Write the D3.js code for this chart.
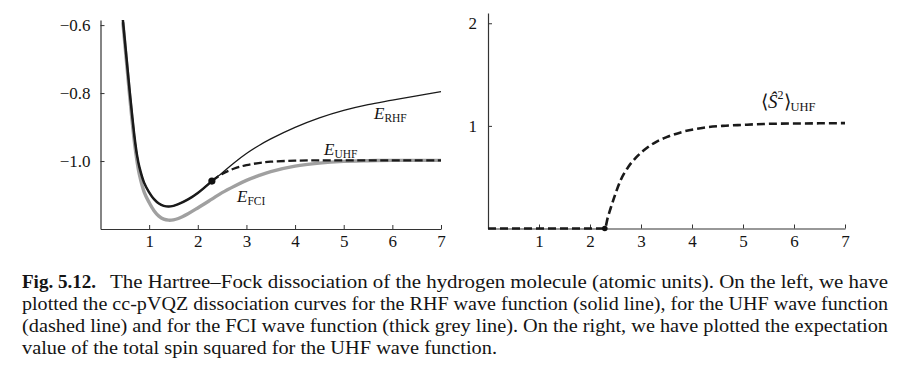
<!DOCTYPE html>
<html>
<head>
<meta charset="utf-8">
<script src="https://cdn.jsdelivr.net/npm/d3@7"></script>
<style>
  body { margin: 0; background: #fff; }
  svg text { font-family: "Liberation Serif", "Times New Roman", Times, serif; fill: #141414; }
</style>
</head>
<body>
<div id="chart"></div>
<script>
// bond distance grid (bohr) and energies (hartree)
const bondR = [0.46, 0.5, 0.55, 0.6, 0.65, 0.7, 0.75, 0.8, 0.9, 1.0, 1.1, 1.2, 1.3, 1.4, 1.5, 1.6, 1.8, 2.0, 2.29, 2.5, 2.75, 3.0, 3.25, 3.5, 4.0, 4.5, 5.0, 5.5, 6.0, 6.5, 7.0];
const eRHF = [-0.585, -0.645, -0.72, -0.795, -0.865, -0.93, -0.982, -1.018, -1.065, -1.092, -1.112, -1.125, -1.132, -1.134, -1.132, -1.127, -1.113, -1.094, -1.059, -1.035, -1.005, -0.978, -0.955, -0.935, -0.901, -0.873, -0.851, -0.834, -0.821, -0.808, -0.796];
const eFCI = [-0.592, -0.654, -0.732, -0.81, -0.882, -0.948, -1.0, -1.04, -1.092, -1.122, -1.146, -1.162, -1.171, -1.174, -1.173, -1.169, -1.155, -1.138, -1.112, -1.093, -1.074, -1.057, -1.043, -1.031, -1.015, -1.006, -1.001, -0.999, -0.998, -0.998, -0.998];
// UHF after the Coulson-Fischer point (before it UHF = RHF)
const cfPoint = 2.29;
const uhfR = [2.29, 2.5, 2.75, 3.0, 3.25, 3.5, 4.0, 4.5, 5.0, 5.5, 6.0, 6.5, 7.0];
const eUHF = [-1.059, -1.038, -1.022, -1.012, -1.006, -1.002, -0.999, -0.998, -0.998, -0.998, -0.998, -0.998, -0.998];
// <S^2> for UHF
const s2R = [0, 2.29, 2.35, 2.4, 2.5, 2.6, 2.75, 2.9, 3.1, 3.3, 3.5, 3.8, 4.2, 4.6, 5.0, 5.5, 6.0, 6.5, 7.0];
const s2UHF = [0, 0, 0.11, 0.19, 0.34, 0.47, 0.6, 0.69, 0.78, 0.845, 0.89, 0.94, 0.98, 1.0, 1.01, 1.02, 1.023, 1.025, 1.027];

const xTicks = [1, 2, 3, 4, 5, 6, 7];
const eTicks = [-1.0, -0.8, -0.6];
const s2Ticks = [1, 2];

const captionHead = "Fig. 5.12.";
const captionLines = [
  "The Hartree\u2013Fock dissociation of the hydrogen molecule (atomic units). On the left, we have",
  "plotted the cc-pVQZ dissociation curves for the RHF wave function (solid line), for the UHF wave function",
  "(dashed line) and for the FCI wave function (thick grey line). On the right, we have plotted the expectation",
  "value of the total spin squared for the UHF wave function."
];

const svg = d3.select("#chart")
  .append("svg")
  .attr("width", 911)
  .attr("height", 374);

function styleAxis(g) {
  g.attr("font-size", 17);
  g.select(".domain").attr("stroke", "#333").attr("stroke-width", 1.2);
  g.selectAll(".tick line").attr("stroke", "#333").attr("stroke-width", 1);
}

// ---------- left panel: energies ----------
const xL = d3.scaleLinear().domain([0, 7]).range([100.5, 441]);
const yL = d3.scaleLinear().domain([-1.2, -0.585]).range([229, 20]);

svg.append("clipPath").attr("id", "clipL")
  .append("rect")
  .attr("x", xL(0)).attr("y", yL(-0.585))
  .attr("width", xL(7) - xL(0) + 2).attr("height", yL(-1.2) - yL(-0.585));

svg.append("g")
  .attr("transform", `translate(0,${yL(-1.2)})`)
  .call(d3.axisBottom(xL).tickValues(xTicks).tickSize(-4).tickSizeOuter(0).tickPadding(6).tickFormat(d3.format("d")))
  .call(styleAxis);

svg.append("g")
  .attr("transform", `translate(${xL(0)},0)`)
  .call(d3.axisLeft(yL).tickValues(eTicks).tickSize(-4).tickSizeOuter(0).tickPadding(10).tickFormat(d3.format(".1f")))
  .call(styleAxis);

const energyLine = d3.line()
  .x(d => xL(d[0]))
  .y(d => yL(d[1]))
  .curve(d3.curveCatmullRom.alpha(0.5));

const rhfPts = bondR.map((r, i) => [r, eRHF[i]]);
const fciPts = bondR.map((r, i) => [r, eFCI[i]]);
const uhfPts = uhfR.map((r, i) => [r, eUHF[i]]);
const restrictedPts = rhfPts.filter(d => d[0] <= cfPoint);

const curvesL = svg.append("g").attr("clip-path", "url(#clipL)");

curvesL.append("path")
  .attr("d", energyLine(fciPts))
  .attr("fill", "none")
  .attr("stroke", "#a0a0a0")
  .attr("stroke-width", 3.4);

curvesL.append("path")
  .attr("d", energyLine(rhfPts))
  .attr("fill", "none")
  .attr("stroke", "#1a1a1a")
  .attr("stroke-width", 1.3);

// UHF coincides with RHF up to the instability point
curvesL.append("path")
  .attr("d", energyLine(restrictedPts))
  .attr("fill", "none")
  .attr("stroke", "#1a1a1a")
  .attr("stroke-width", 2.5);

curvesL.append("path")
  .attr("d", energyLine(uhfPts))
  .attr("fill", "none")
  .attr("stroke", "#1a1a1a")
  .attr("stroke-width", 2.3)
  .attr("stroke-dasharray", "8,3.5");

svg.append("circle")
  .attr("cx", xL(cfPoint))
  .attr("cy", yL(eRHF[bondR.indexOf(cfPoint)]))
  .attr("r", 3.6)
  .attr("fill", "#111");

function addLabel(x, y, sub) {
  const t = svg.append("text").attr("x", x).attr("y", y);
  t.append("tspan").attr("font-style", "italic").attr("font-size", 17).text("E");
  t.append("tspan").attr("font-size", 11.5).attr("dy", 3).text(sub);
}
addLabel(374, 119, "RHF");
addLabel(324, 155, "UHF");
addLabel(237, 202, "FCI");

// ---------- right panel: <S^2> ----------
const xR = d3.scaleLinear().domain([0, 7]).range([488, 845]);
const yR = d3.scaleLinear().domain([0, 2.1]).range([228.5, 13]);

svg.append("g")
  .attr("transform", `translate(0,${yR(0)})`)
  .call(d3.axisBottom(xR).tickValues(xTicks).tickSize(-4).tickSizeOuter(0).tickPadding(6).tickFormat(d3.format("d")))
  .call(styleAxis);

svg.append("g")
  .attr("transform", `translate(${xR(0)},0)`)
  .call(d3.axisLeft(yR).tickValues(s2Ticks).tickSize(-4).tickSizeOuter(0).tickPadding(11).tickFormat(d3.format("d")))
  .call(styleAxis);

const s2Line = d3.line()
  .x(d => xR(d[0]))
  .y(d => yR(d[1]))
  .curve(d3.curveMonotoneX);

svg.append("path")
  .attr("d", s2Line(s2R.map((r, i) => [r, s2UHF[i]])))
  .attr("fill", "none")
  .attr("stroke", "#1a1a1a")
  .attr("stroke-width", 2.6)
  .attr("stroke-dasharray", "8,4");

svg.append("circle")
  .attr("cx", xR(cfPoint))
  .attr("cy", yR(0))
  .attr("r", 2.8)
  .attr("fill", "#111");

const s2Label = svg.append("text").attr("x", 761).attr("y", 108).attr("font-size", 19);
s2Label.append("tspan").text("\u27E8");
s2Label.append("tspan").attr("font-style", "italic").text("\u015C");
s2Label.append("tspan").attr("font-size", 12).attr("dy", -9).text("2");
s2Label.append("tspan").attr("dy", 9).text("\u27E9");
s2Label.append("tspan").attr("font-size", 12.5).attr("dy", 3).text("UHF");

// ---------- caption ----------
const cap = svg.append("g").attr("font-size", 18);
const capY = [288, 310, 332, 354];
cap.append("text")
  .attr("x", 22).attr("y", capY[0])
  .attr("font-weight", "bold")
  .attr("textLength", 74)
  .attr("lengthAdjust", "spacingAndGlyphs")
  .text(captionHead);
captionLines.forEach((line, i) => {
  const x0 = i === 0 ? 110 : 22;
  const x1 = i === 3 ? 497 : 888;
  cap.append("text")
    .attr("x", x0).attr("y", capY[i])
    .attr("textLength", x1 - x0)
    .attr("lengthAdjust", "spacingAndGlyphs")
    .text(line);
});
</script>
</body>
</html>
